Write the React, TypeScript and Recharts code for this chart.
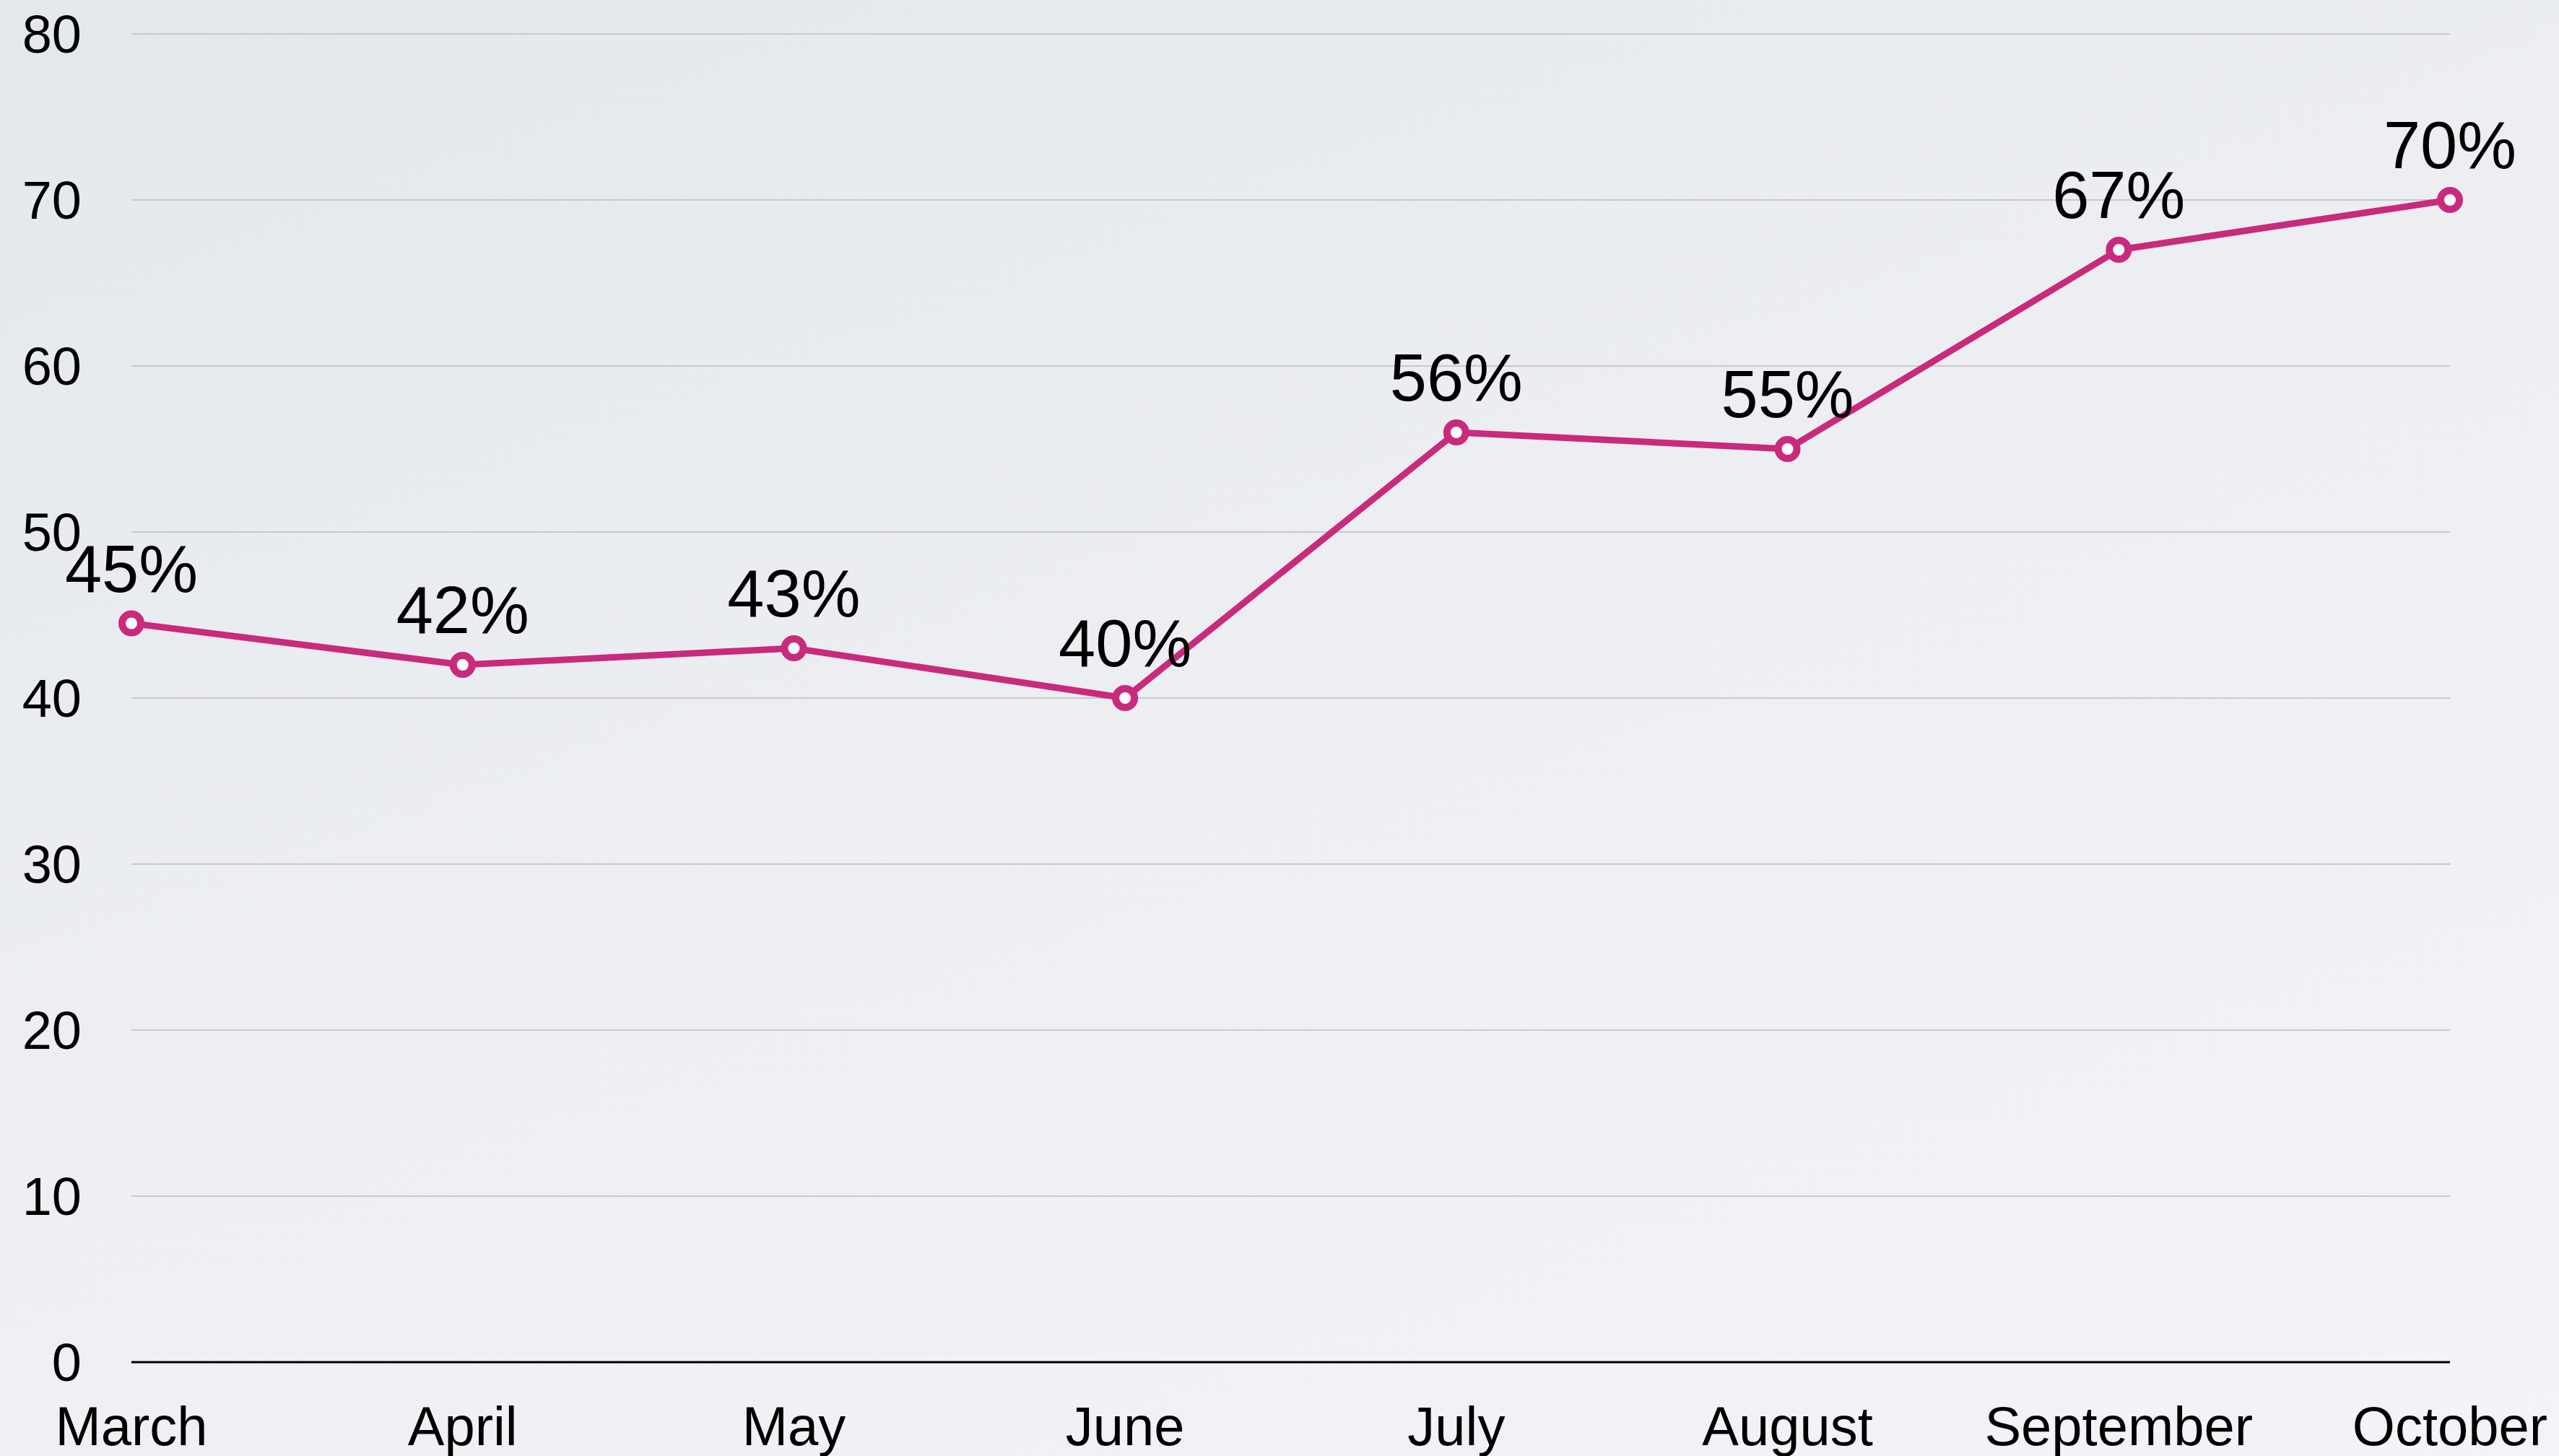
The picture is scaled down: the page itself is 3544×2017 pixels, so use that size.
import { LineChart, Line, XAxis, YAxis, CartesianGrid } from 'recharts'

const months = ['March', 'April', 'May', 'June', 'July', 'August', 'September', 'October']
const values = [44.5, 42, 43, 40, 56, 55, 67, 70]
const valueLabels = ['45%', '42%', '43%', '40%', '56%', '55%', '67%', '70%']
const yTicks = [0, 10, 20, 30, 40, 50, 60, 70, 80]

const data = months.map((month, i) => ({ month, value: values[i], label: valueLabels[i] }))

const FONT = '"Liberation Sans", Arial, Helvetica, sans-serif'
const PINK = '#C92A7C'

function PointLabel(props: any) {
  const { x, y, index } = props
  if (x == null || y == null) return null
  return (
    <text
      x={x}
      y={y - 44}
      textAnchor="middle"
      fontSize={92}
      fontFamily={FONT}
      fill="#000"
    >
      {valueLabels[index]}
    </text>
  )
}

export default function App() {
  return (
    <div
      style={{
        position: 'fixed',
        top: 0,
        left: 0,
        width: 3544,
        height: 2017,
        background: 'linear-gradient(160deg, #E4E7EC 0%, #EDEFF3 50%, #F3F4F7 100%)',
      }}
    >
      <LineChart
        width={3544}
        height={2017}
        data={data}
        margin={{ top: 47, right: 151, left: 0, bottom: 0 }}
      >
        <CartesianGrid stroke="#C9C9C9" strokeWidth={2} vertical={false} />
        <XAxis
          dataKey="month"
          height={130}
          interval={0}
          axisLine={{ stroke: '#000', strokeWidth: 3 }}
          tickLine={false}
          tickSize={0}
          tickMargin={61}
          tick={{ fontSize: 76, fill: '#000', fontFamily: FONT }}
        />
        <YAxis
          width={182}
          domain={[0, 80]}
          ticks={yTicks}
          axisLine={false}
          tickLine={false}
          tickSize={0}
          tickMargin={69}
          tick={{ fontSize: 74, fill: '#000', fontFamily: FONT }}
        />
        <Line
          type="linear"
          dataKey="value"
          stroke={PINK}
          strokeWidth={9}
          dot={{ r: 13, stroke: PINK, strokeWidth: 10, fill: '#fff' }}
          activeDot={false}
          label={<PointLabel />}
          isAnimationActive={false}
        />
      </LineChart>
    </div>
  )
}
